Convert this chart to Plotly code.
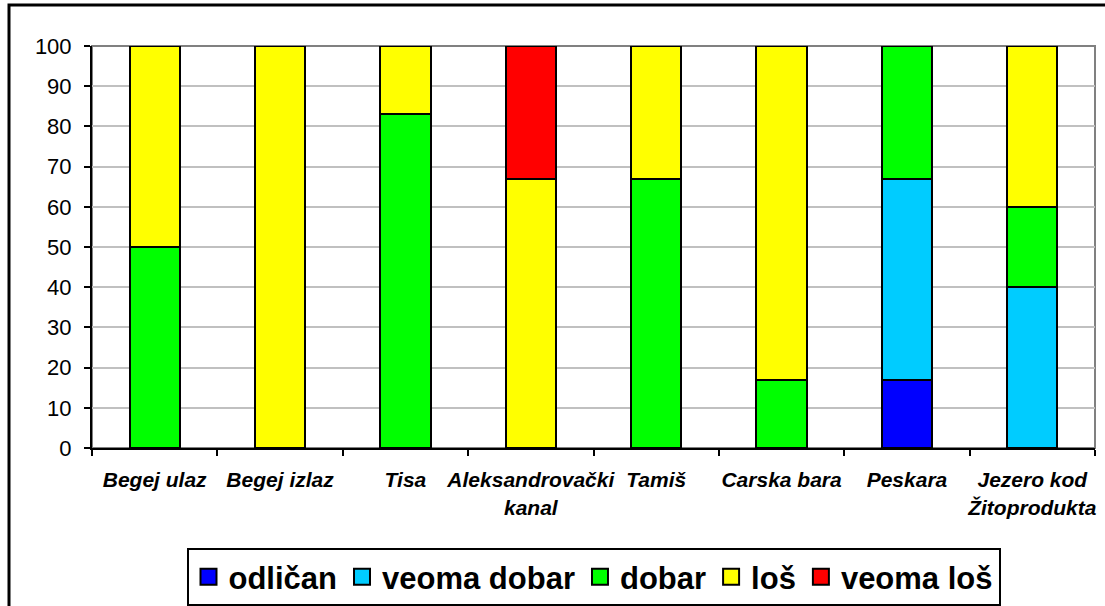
import plotly.graph_objects as go

# Ocena kvaliteta vode po lokalitetima (%)
categories = [
    "Begej ulaz", "Begej izlaz", "Tisa", "Aleksandrovački<br>kanal",
    "Tamiš", "Carska bara", "Peskara", "Jezero kod<br>Žitoprodukta",
]
odlican = [0, 0, 0, 0, 0, 0, 17, 0]
veoma_dobar = [0, 0, 0, 0, 0, 0, 50, 40]
dobar = [50, 0, 83, 0, 67, 17, 33, 20]
los = [50, 100, 17, 67, 33, 83, 0, 40]
veoma_los = [0, 0, 0, 33, 0, 0, 0, 0]

series = [
    ("odličan", odlican, "#0000FF"),
    ("veoma dobar", veoma_dobar, "#00CCFF"),
    ("dobar", dobar, "#00FF00"),
    ("loš", los, "#FFFF00"),
    ("veoma loš", veoma_los, "#FF0000"),
]

fig = go.Figure()
for name, vals, color in series:
    fig.add_trace(go.Bar(
        name=name, x=categories, y=vals, legendgroup=name, showlegend=False,
        marker=dict(color=color, line=dict(color="black", width=2)),
    ))
# legend entries with larger square swatches
for name, vals, color in series:
    fig.add_trace(go.Scatter(
        name=name, x=[None], y=[None], mode="markers", legendgroup=name,
        marker=dict(symbol="square", size=16, color=color,
                    line=dict(color="black", width=2)),
    ))

L, R, T, B = 92, 10, 46, 158
W, H = 1105, 606
pw, ph = W - L - R, H - T - B

def px_x(x):
    return (x - L) / pw

def px_y(y):
    return (H - B - y) / ph

fig.update_layout(
    width=W, height=H,
    barmode="stack", bargap=0.6,
    plot_bgcolor="white", paper_bgcolor="white",
    margin=dict(l=L, r=R, t=T, b=B, autoexpand=False),
    font=dict(family="Liberation Sans, Arial, sans-serif", color="black"),
    showlegend=True,
    legend=dict(
        orientation="h", x=0.5, xanchor="center", y=px_y(548), yanchor="top",
        bordercolor="black", borderwidth=2, traceorder="normal",
        itemsizing="trace",
        font=dict(size=31, family="Liberation Sans, Arial, sans-serif", weight="bold"),
        itemwidth=30, tracegroupgap=0,
    ),
    xaxis=dict(
        showline=True, linecolor="black", linewidth=2,
        ticks="outside", ticklen=6, tickcolor="black", tickwidth=2,
        tickson="boundaries", ticklabelstandoff=12, tickangle=0,
        tickfont=dict(size=21, style="italic", weight="bold"),
        showgrid=False, automargin=False,
    ),
    yaxis=dict(
        range=[0, 100], dtick=10, showline=True, linecolor="black", linewidth=2,
        ticks="outside", ticklen=6, tickcolor="black", tickwidth=2,
        ticklabelstandoff=8, tickfont=dict(size=22),
        gridcolor="#c0c0c0", gridwidth=2, zeroline=False, automargin=False,
    ),
    shapes=[
        # gray frame on top and right of plot area
        dict(type="rect", xref="paper", yref="paper", x0=0, x1=1, y0=0, y1=1,
             line=dict(color="#808080", width=2), layer="below"),
        # outer chart border
        dict(type="rect", xref="paper", yref="paper",
             x0=px_x(9), x1=px_x(1120), y0=px_y(620), y1=px_y(5),
             line=dict(color="black", width=3), layer="below"),
    ],
)

fig.write_html("out.html")
